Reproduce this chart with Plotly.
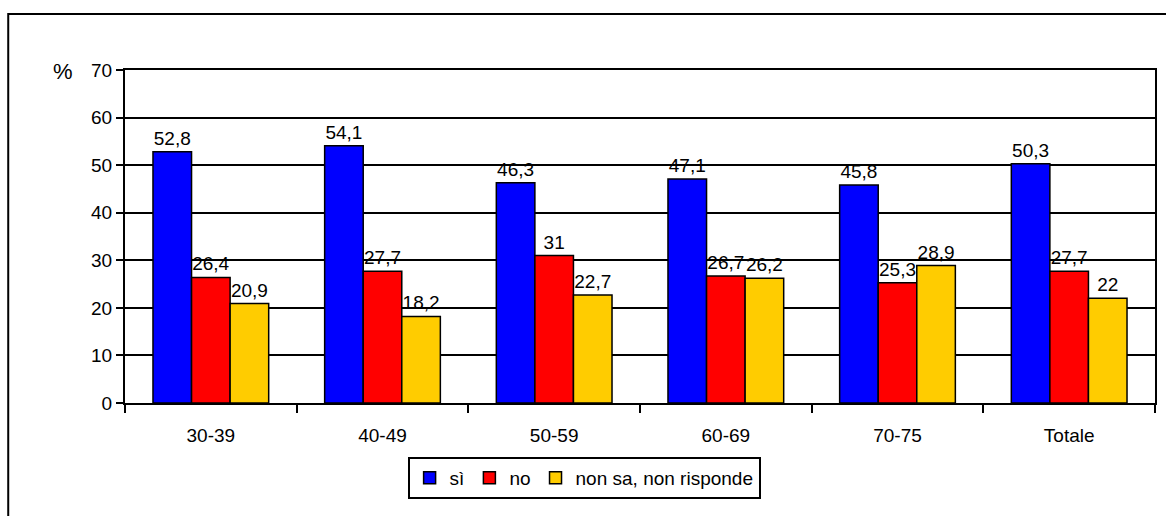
import plotly.graph_objects as go

categories = ["30-39", "40-49", "50-59", "60-69", "70-75", "Totale"]
si = [52.8, 54.1, 46.3, 47.1, 45.8, 50.3]
no = [26.4, 27.7, 31, 26.7, 25.3, 27.7]
nonsa = [20.9, 18.2, 22.7, 26.2, 28.9, 22]
series_names = ["sì", "no", "non sa, non risponde"]
colors = ["#0000FF", "#FF0000", "#FFCC00"]
y_ticks = [0, 10, 20, 30, 40, 50, 60, 70]

FONT = "Liberation Sans, Arial, sans-serif"
FS = 19


def fmt(v):
    return f"{v:g}".replace(".", ",")


fig = go.Figure()
for name, vals, col in zip(series_names, [si, no, nonsa], colors):
    fig.add_trace(go.Bar(
        x=categories, y=vals, name=name,
        marker=dict(color=col, line=dict(color="black", width=1.5)),
        text=[fmt(v) for v in vals], textposition="outside",
        textfont=dict(family=FONT, size=FS, color="black"),
        cliponaxis=False,
    ))

W, H = 1166, 516
L, R, T, B = 125, 9, 70, 113
pw, ph = W - L - R, H - T - B

fig.update_layout(
    width=W, height=H,
    margin=dict(l=L, r=R, t=T, b=B, pad=0),
    paper_bgcolor="white", plot_bgcolor="white",
    barmode="group", bargap=0.326, bargroupgap=0,
    font=dict(family=FONT, size=FS, color="black"),
    showlegend=True,
    legend=dict(
        orientation="h", x=(585 - L) / pw, xanchor="center",
        y=(H - B - 457) / ph, yanchor="top",
        bordercolor="black", borderwidth=2, bgcolor="white",
        font=dict(family=FONT, size=FS, color="black"),
        itemwidth=30, traceorder="normal", tracegroupgap=0,
    ),
    uniformtext=dict(mode=False),
)
fig.update_xaxes(
    type="category", showgrid=False, showline=True, linecolor="black", linewidth=2,
    mirror=True, ticks="outside", tickson="boundaries", ticklen=8, tickwidth=2,
    tickcolor="black", tickfont=dict(family=FONT, size=FS, color="black"),
    ticklabelstandoff=14,
)
fig.update_yaxes(
    range=[0, 70], tickvals=y_ticks, showgrid=True, gridcolor="black", gridwidth=2,
    showline=True, linecolor="black", linewidth=2, mirror=True,
    ticks="outside", ticklen=7, tickwidth=2, tickcolor="black",
    tickfont=dict(family=FONT, size=FS, color="black"), zeroline=False,
)

# outer chart border
fig.add_shape(type="rect", xref="paper", yref="paper",
              x0=(8 - L) / pw, x1=1.2, y0=-0.6, y1=1 + (T - 14) / ph,
              line=dict(color="black", width=2), layer="below")

fig.add_annotation(text="%", xref="paper", yref="paper",
                   x=(63 - L) / pw, y=1 + (T - 71) / ph, xanchor="center", yanchor="middle",
                   showarrow=False, font=dict(family=FONT, size=22, color="black"))

fig.write_html("out.html")
